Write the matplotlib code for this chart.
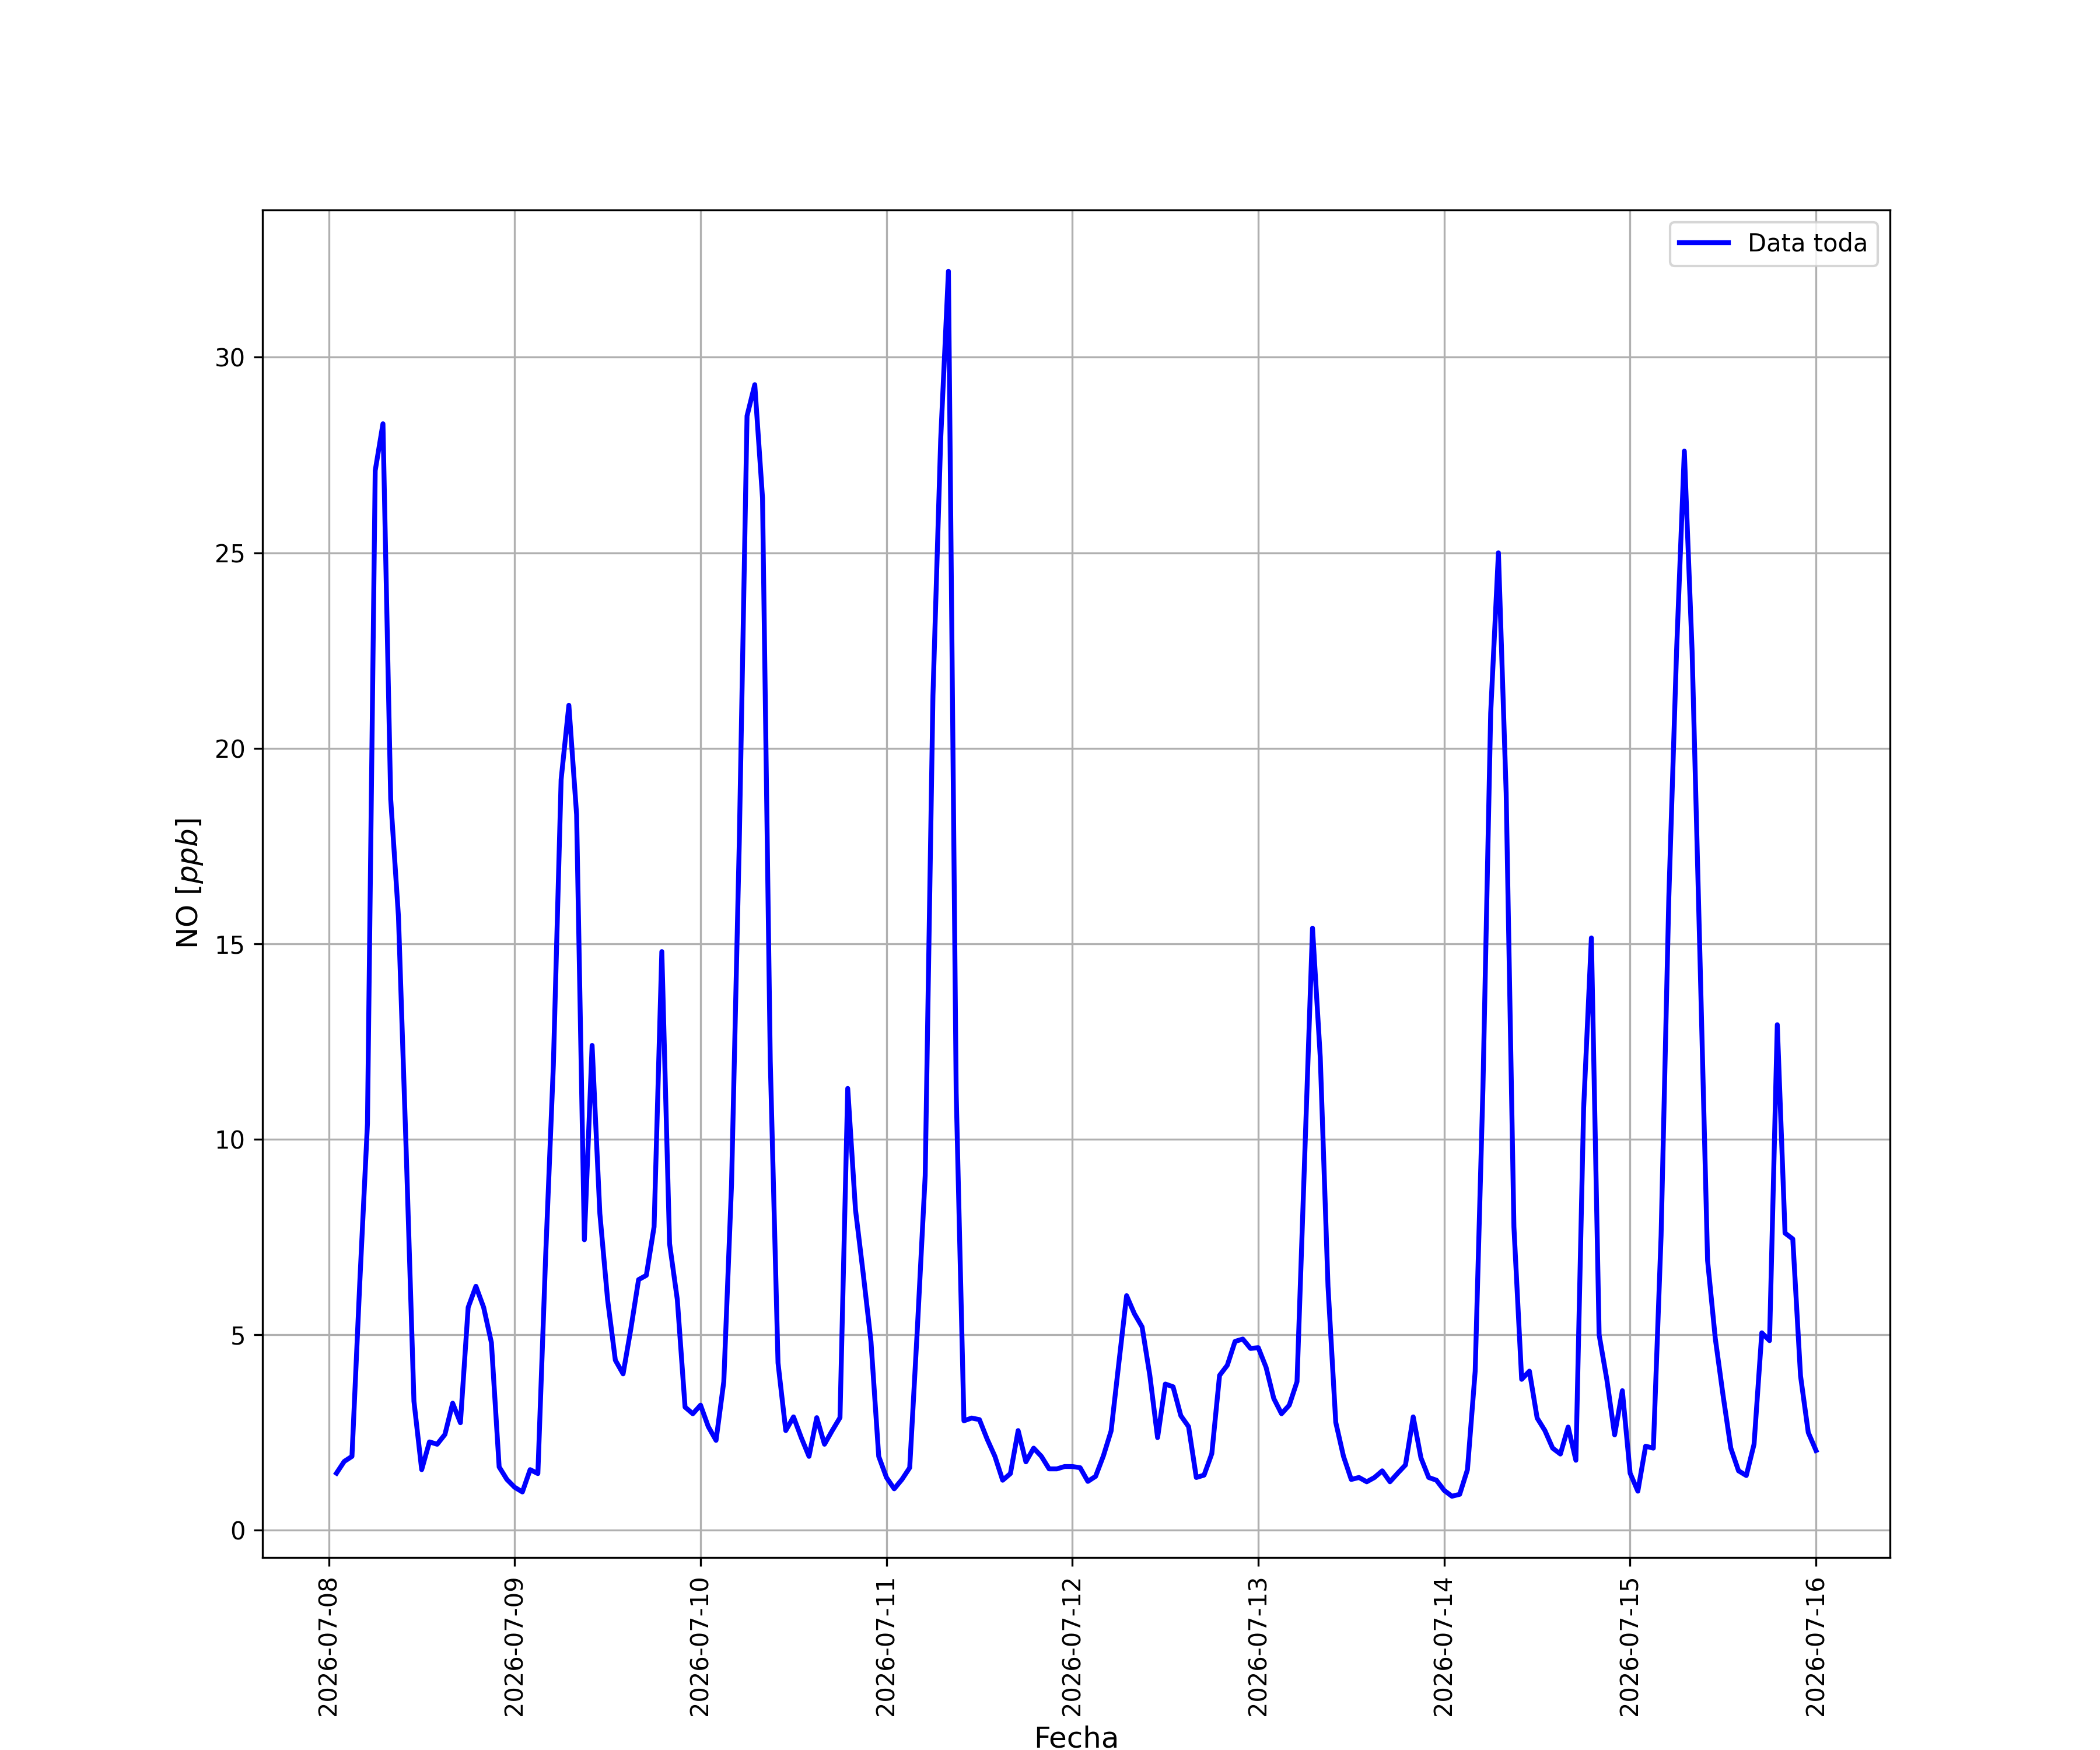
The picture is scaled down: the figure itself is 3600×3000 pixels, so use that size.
import numpy as np
import pandas as pd
import matplotlib
matplotlib.use("Agg")
import matplotlib.pyplot as plt
import matplotlib.dates as mdates

# Datos horarios de NO [ppb], 2026-07-08 01:00 -> 2026-07-16 00:00

dia_08 = [1.46, 1.76, 1.89, 6.3, 10.4, 27.1, 28.3, 18.7, 15.7, 9.7, 3.3, 1.55,
          2.26, 2.2, 2.45, 3.25, 2.75, 5.7, 6.24, 5.7, 4.8, 1.62, 1.3, 1.1]
dia_09 = [0.98, 1.55, 1.45, 7.0, 11.9, 19.2, 21.1, 18.3, 7.43, 12.4, 8.1, 5.9,
          4.35, 4.0, 5.15, 6.41, 6.52, 7.76, 14.8, 7.33, 5.9, 3.15, 2.98, 3.2]
dia_10 = [2.65, 2.3, 3.8, 8.85, 17.6, 28.5, 29.3, 26.4, 12.0, 4.28, 2.55, 2.9,
          2.37, 1.89, 2.88, 2.2, 2.55, 2.88, 11.3, 8.2, 6.56, 4.83, 1.89, 1.35]
dia_11 = [1.06, 1.3, 1.6, 5.2, 9.07, 21.35, 27.9, 32.2, 11.2, 2.8, 2.87, 2.83,
          2.33, 1.89, 1.28, 1.45, 2.55, 1.75, 2.1, 1.89, 1.57, 1.57, 1.63, 1.63]
dia_12 = [1.6, 1.25, 1.38, 1.9, 2.54, 4.28, 6.0, 5.54, 5.2, 3.96, 2.37, 3.74,
          3.67, 2.93, 2.65, 1.35, 1.41, 1.96, 3.96, 4.22, 4.83, 4.89, 4.65, 4.67]
dia_13 = [4.17, 3.37, 2.98, 3.2, 3.8, 9.6, 15.4, 12.1, 6.24, 2.76, 1.89, 1.3,
          1.35, 1.24, 1.35, 1.52, 1.24, 1.46, 1.67, 2.9, 1.85, 1.35, 1.28, 1.02]
dia_14 = [0.87, 0.92, 1.55, 4.07, 11.3, 20.9, 25.0, 18.85, 7.76, 3.86, 4.07, 2.87,
          2.55, 2.1, 1.95, 2.64, 1.79, 10.8, 15.15, 5.0, 3.85, 2.44, 3.57, 1.46]
dia_15 = [1.0, 2.15, 2.1, 7.54, 16.2, 22.5, 27.6, 22.5, 14.8, 6.9, 4.9, 3.45,
          2.1, 1.52, 1.4, 2.2, 5.05, 4.85, 12.93, 7.6, 7.45, 3.95, 2.5, 2.04]

no_ppb = np.array(dia_08 + dia_09 + dia_10 + dia_11 + dia_12 + dia_13 + dia_14 + dia_15)
fechas = pd.date_range("2026-07-08 01:00", periods=len(no_ppb), freq="h")

# Grafico
fig, axis = plt.subplots(figsize=(12, 10), dpi=300)
axis.plot(fechas, no_ppb, color="blue", linewidth=2, label="Data toda")

axis.xaxis.set_major_locator(mdates.DayLocator())
axis.xaxis.set_major_formatter(mdates.DateFormatter("%Y-%m-%d"))
plt.xticks(rotation=90)

axis.set_xlabel("Fecha", fontsize=12)
axis.set_ylabel("NO [$ppb$]", fontsize=12)
axis.grid(True)
axis.legend(loc="upper right")

fig.savefig("out.png", dpi=300)
